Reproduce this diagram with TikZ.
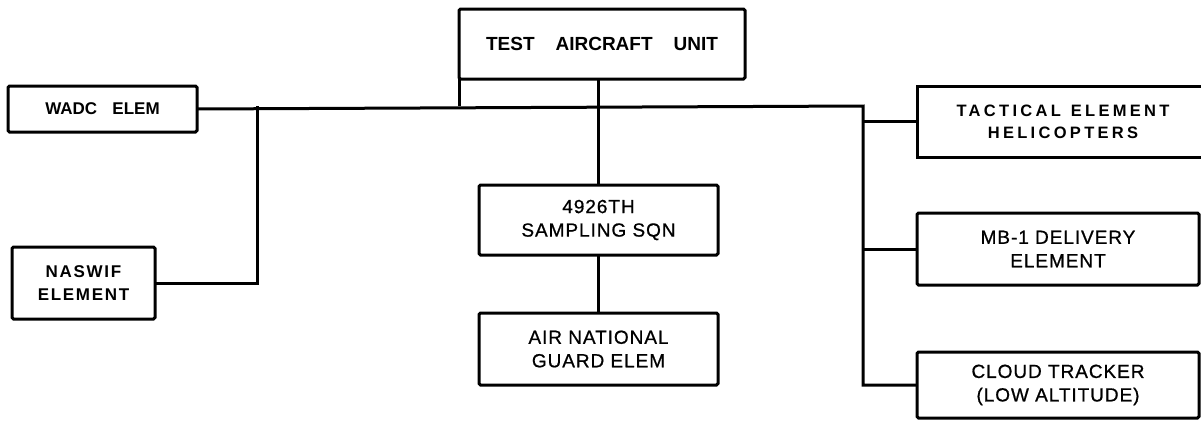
\documentclass[tikz,border=0pt]{standalone}
\usepackage{fontspec}
\setmainfont{Liberation Sans}
\newfontfamily\spacedfont[LetterSpace=20]{Liberation Sans}
\newfontfamily\wideboldfont[LetterSpace=10]{Liberation Sans}
\newfontfamily\medfont[LetterSpace=5,FakeBold=0.8]{Liberation Sans}
\begin{document}
\begin{tikzpicture}[x=1pt,y=-1pt,
  box/.style={draw,line width=3pt,rounded corners=1.5pt,inner sep=0pt,outer sep=0pt,align=center},
  openbox/.style={inner sep=0pt,outer sep=0pt,align=center},
  link/.style={line width=3pt},
  boldtxt/.style={font=\fontsize{17}{23}\selectfont\bfseries},
  medtxt/.style={font=\fontsize{19}{23.5}\selectfont\medfont}]
\useasboundingbox (0,0) rectangle (1201,421);
% boxes
\node[box,minimum width=286pt,minimum height=70pt,font=\fontsize{19}{21}\selectfont\bfseries] (test) at (602,44) {TEST\hspace{1.1em}AIRCRAFT\hspace{1.1em}UNIT};
\node[box,boldtxt,minimum width=189pt,minimum height=46pt] (wadc) at (102.5,109) {WADC\hspace{0.9em}ELEM};
\node[box,font=\fontsize{17}{23}\selectfont\bfseries\wideboldfont,minimum width=143pt,minimum height=72pt] (naswif) at (83.5,283) {NASWIF\\ELEMENT};
\node[box,medtxt,minimum width=239pt,minimum height=70pt] (sqn) at (598.5,220) {4926TH\\SAMPLING SQN};
\node[box,medtxt,minimum width=239pt,minimum height=72pt] (ang) at (598.5,349) {AIR NATIONAL\\GUARD ELEM};
\node[openbox,minimum width=284pt,minimum height=71pt] (tac) at (1059,121.5) {};
\node[font=\fontsize{16.5}{22}\selectfont\bfseries\spacedfont,align=center] (tactxt) at (1063,121.5) {TACTICAL\hspace{0.6em}ELEMENT\\HELICOPTERS};
\node[box,medtxt,minimum width=282pt,minimum height=72pt] (mb) at (1058,249) {MB-1 DELIVERY\\ELEMENT};
\node[box,medtxt,minimum width=282pt,minimum height=66pt] (cloud) at (1058,385) {CLOUD TRACKER\\(LOW ALTITUDE)};
% open tactical box
\draw[link] (1201,86) -- (tac.north west) -- (tac.south west) -- (1201,157);
% connectors
\coordinate (busL) at (wadc.east);
\coordinate (busR) at (863,106);
\coordinate (jN) at (257,106);
\coordinate (jT) at (test.south west |- busR);
\coordinate (cB) at (busR |- cloud.west);
\draw[link] (busL) -- (busR) -- (cB) -- (cloud.west);
\draw[link] (test.south west) -- (jT);
\draw[link] (busR |- tac.west) -- (tac.west);
\draw[link] (busR |- mb.west) -- (mb.west);
\draw[link] (jN) |- (naswif.east);
\draw[link] (sqn.north |- test.south) -- (sqn.north);
\draw[link] (sqn.south) -- (ang.north);
\end{tikzpicture}
\end{document}
